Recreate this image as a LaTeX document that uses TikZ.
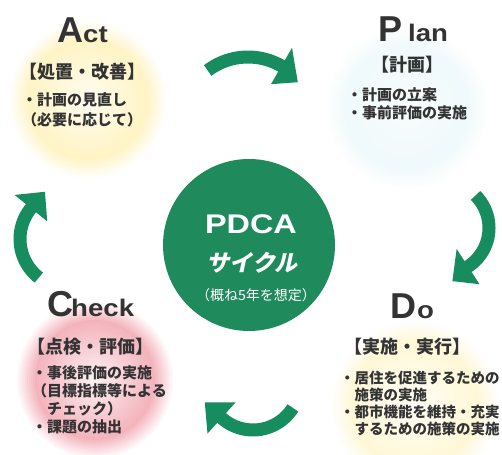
\documentclass[tikz,border=0pt]{standalone}
\usepackage{fontspec}
\setmainfont{Liberation Sans}
\newfontfamily\jp{Noto Sans CJK JP}
\newfontfamily\jpsl{Noto Sans CJK JP}[FakeSlant=0.22]
\usetikzlibrary{calc}
\definecolor{pgreen}{HTML}{178C5E}
\definecolor{cgreen}{HTML}{1F8A5C}
\definecolor{txt}{HTML}{333333}
\definecolor{gy}{HTML}{FFE98A}
\definecolor{gp}{HTML}{EC7C8C}
\definecolor{gc}{HTML}{C8EAF0}
\newcommand\pdcaglow[6]{%
  \foreach \k in {0,...,39}{%
    \pgfmathsetmacro\pdcat{1-\k/40}%
    \pgfmathsetmacro\pdcap{\pdcat>0.75 ? #6*(1-\pdcat)/0.25 : #5+(#6-#5)*\pdcat/0.75}%
    \fill[#4!\pdcap!white] (#1,#2) circle[radius=\pdcat*#3];
  }}
\newcommand\pdcaarrow[7]{%
  \draw[pgreen, line width=13pt] ($(#1,#2)+(#4:#3)$) arc[start angle=#4, end angle={#5-3}, radius=#3];
  \fill[pgreen] ($(#1,#2)+(#5:{#3-21})$) -- ($(#1,#2)+(#5:{#3+21})$) -- ($(#1,#2)+(#6:#7)$) -- cycle;
}
\tikzset{
  bigl/.style={font=\fontsize{36}{36}\selectfont\bfseries, text=txt, inner sep=0, anchor=base west},
  restl/.style={font=\fontsize{24}{24}\selectfont\bfseries, text=txt, inner sep=0, anchor=base west},
  jphead/.style={font=\jp\fontsize{18}{18}\selectfont\bfseries, text=txt, inner sep=0},
  jpbody/.style={font=\jp\fontsize{15}{15}\selectfont\bfseries, text=txt, inner sep=0, anchor=west},
  jpbodys/.style={font=\jp\fontsize{14.5}{14.5}\selectfont\bfseries, text=txt, inner sep=0, anchor=west},
}
\begin{document}
\begin{tikzpicture}[x=1pt,y=1pt]
\useasboundingbox (0,0) rectangle (502,454);
\clip (0,0) rectangle (502,454);
\fill[white] (0,0) rectangle (502,454);
% background glows
\pdcaglow{88}{354}{80}{gy}{12}{50}
\pdcaglow{407}{346}{82}{gc}{12}{28}
\pdcaglow{95}{74}{80}{gp}{10}{58}
\pdcaglow{415}{49}{85}{gy}{6}{35}
% arrows
\pdcaarrow{248}{330}{67}{127}{60}{40}{65}
\pdcaarrow{443}{226}{46}{45}{-57}{-80}{54}
\pdcaarrow{253}{71}{47}{-32}{-132}{-158}{52}
\pdcaarrow{69}{215}{49}{232}{141}{117}{53}
% centre
\node[circle, fill=cgreen, minimum size=172pt, inner sep=0] (center) at (249,209) {};
\node[font=\fontsize{27}{27}\selectfont\bfseries, text=white, anchor=base, inner sep=0] (pdca) at (251,220) {\scalebox{1.2}[1]{PDCA}};
\node[font=\jpsl\fontsize{23}{23}\selectfont\bfseries, text=white, inner sep=0] (cyc) at (252,191) {サイクル};
\node[font=\jp\fontsize{14}{14}\selectfont, text=white, inner sep=0] (yr) at (256,159) {（概ね5年を想定）};
% Act
\node[bigl] (actA) at (57,411) {A};
\node[restl] (actct) at (83,411) {\scalebox{1.15}[1]{ct}};
\node[jphead] (acth) at (82.5,382) {【処置・改善】};
\node[jpbody] (act1) at (22,354) {・計画の見直し};
\node[jpbody] (act2) at (22,334) {（必要に応じて）};
% Plan
\node[bigl] (planP) at (378,412) {P};
\node[restl] (planl) at (408,412) {\scalebox{1.15}[1]{lan}};
\node[jphead] (planh) at (407,389) {【計画】};
\node[jpbody] (plan1) at (347,359) {・計画の立案};
\node[jpbody] (plan2) at (347,341) {・事前評価の実施};
% Check
\node[bigl] (chkC) at (47,137) {C};
\node[restl] (chkh) at (71,137) {\scalebox{1.15}[1]{heck}};
\node[jphead] (chkhd) at (90,107) {【点検・評価】};
\node[jpbody] (chk1) at (32,81) {・事後評価の実施};
\node[jpbody] (chk2) at (32,63) {（目標指標等による};
\node[jpbody] (chk3) at (47,45) {チェック）};
\node[jpbody] (chk4) at (32,27) {・課題の抽出};
% Do
\node[bigl] (doD) at (390,135) {D};
\node[restl] (doo) at (417,135) {\scalebox{1.15}[1]{o}};
\node[jphead] (doh) at (407,107) {【実施・実行】};
\node[jpbodys] (do1) at (340,76) {・居住を促進するための};
\node[jpbodys] (do2) at (354.5,59) {施策の実施};
\node[jpbodys] (do3) at (340,42) {・都市機能を維持・充実};
\node[jpbodys] (do4) at (354.5,25) {するための施策の実施};
\end{tikzpicture}
\end{document}
